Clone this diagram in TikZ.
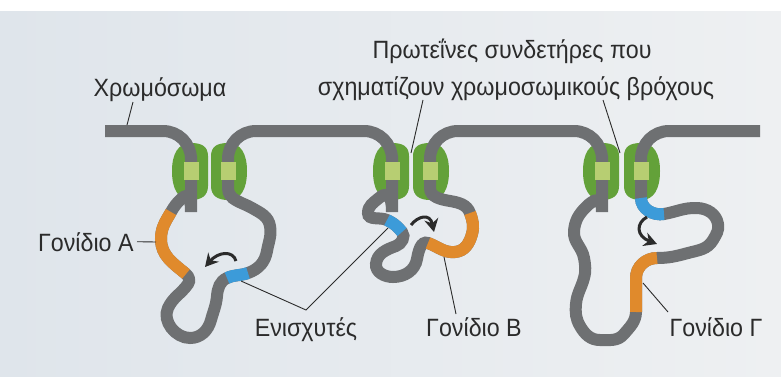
\documentclass[tikz,border=0pt]{standalone}
\usepackage{fontspec}
\setmainfont{Liberation Sans}[FakeStretch=0.93]
\usetikzlibrary{arrows.meta}
\definecolor{paperL}{HTML}{DFE5EB}
\definecolor{paperR}{HTML}{EEF0F2}
\definecolor{chrom}{HTML}{6E7072}
\definecolor{geneOr}{HTML}{E08A2C}
\definecolor{enhBl}{HTML}{3C9BD9}
\definecolor{cohDk}{HTML}{63A139}
\definecolor{cohLt}{HTML}{B7CE72}
\definecolor{ink}{HTML}{2B2B2B}
\tikzset{
  % chromatin fibre and its coloured stretches (same width, butt ends)
  strand/.style={draw=chrom, line width=6pt},
  gene/.style={draw=geneOr, line width=6pt},
  enh/.style={draw=enhBl, line width=6pt},
  % loop-forming clamp proteins
  cohesin/.style={fill=cohDk},
  band/.style={fill=cohLt},
  % small curved "contact" arrows
  turn/.style={draw=ink, line width=1.5pt, -{Stealth[length=6.5pt,width=7pt]}},
  leader/.style={draw=ink, line width=0.45pt},
  lbl/.style={font=\fontsize{12.5}{14}\selectfont, text=ink, inner sep=0pt},
}

\begin{document}
\begin{tikzpicture}[x=0.5pt, y=0.5pt]
\useasboundingbox (0,0) rectangle (781,376);

% paper
\shade[left color=paperL, right color=paperR] (0,0) rectangle (781,365);
\fill[white] (0,365) rectangle (781,376);

% =====================================================================
% CLAMP PAIRS  (x of the strand through each half / outer side)
% round on the outside, flat where the two halves meet
% =====================================================================
\foreach \x/\s in {191/1, 228/-1, 392/1, 430/-1, 602/1, 641/-1} {
  \fill[cohesin] (\x+17*\s,190) -- (\x+17*\s,220)
    .. controls (\x+17*\s,230) and (\x+10*\s,233) .. (\x,233)
    .. controls (\x-13*\s,233) and (\x-19*\s,222) .. (\x-19*\s,205)
    .. controls (\x-19*\s,187) and (\x-13*\s,176) .. (\x,176)
    .. controls (\x+10*\s,176) and (\x+17*\s,180) .. (\x+17*\s,190) -- cycle;
}

% =====================================================================
% CHROMOSOME  (one fibre, left to right, three loops)
% =====================================================================
\draw[strand]
  (105,245) [rounded corners=14pt] -| (191,192)
  % loop 1 -- gene A
  [sharp corners] to[out=-90,in=45] (180,176)
  to[out=-135,in=60] (171,164)
  to[out=-120,in=90] (161,137)
  to[out=-90,in=140] (186,102)
  to[out=-40,in=55] (188,92)
  to[out=-125,in=65] (168,68)
  to[out=-115,in=180] (190,38)
  to[out=0,in=-105] (211,56)
  to[out=75,in=-95] (217,80)
  to[out=85,in=-155] (227,98)
  to[out=25,in=-160] (248,103)
  to[out=20,in=-100] (267,125)
  to[out=80,in=-80] (270,150)
  to[out=100,in=-30] (252,168)
  to[out=150,in=-90] (228,188)
  -- (228,192) [rounded corners=14pt] |- (310,245) -| (392,192)
  % loop 2 -- gene B
  [sharp corners] to[out=-90,in=40] (379,178)
  to[out=-140,in=90] (368,163)
  to[out=-90,in=155] (387,156)
  to[out=-25,in=130] (402,144)
  to[out=-50,in=20] (396,130)
  to[out=-160,in=85] (376,112)
  to[out=-95,in=180] (393,99)
  to[out=0,in=-100] (417,117)
  to[out=80,in=160] (428,133)
  to[out=-20,in=-175] (455,124)
  to[out=5,in=-105] (472,142)
  to[out=75,in=-70] (470,163)
  to[out=110,in=-10] (450,175)
  to[out=170,in=-90] (430,188)
  -- (430,192) [rounded corners=14pt] |- (516,245) -| (602,192)
  % loop 3 -- gene G
  [sharp corners] to[out=-90,in=45] (586,169)
  to[out=-135,in=85] (574,145)
  to[out=-95,in=100] (584,118)
  to[out=-80,in=75] (584,98)
  to[out=-105,in=85] (576,72)
  to[out=-95,in=120] (580,50)
  to[out=-60,in=180] (600,36)
  to[out=0,in=-130] (624,42)
  to[out=50,in=-92] (636,64)
  to[out=88,in=-90] (636,98)
  to[out=90,in=180] (657,118)
  to[out=0,in=-165] (688,123)
  to[out=15,in=-120] (713,136)
  to[out=60,in=-80] (718,152)
  to[out=100,in=-2] (697,168)
  to[out=178,in=10] (664,162)
  to[out=190,in=-90] (641,178)
  -- (641,182) [rounded corners=14pt] |- (760,245);

% genes (orange) and enhancers (blue) laid over the same curve pieces
\draw[gene] (171,164) to[out=-120,in=90] (161,137) to[out=-90,in=140] (186,102);
\draw[gene] (428,133) to[out=-20,in=-175] (455,124) to[out=5,in=-105] (472,142)
  to[out=75,in=-70] (470,163);
\draw[gene] (636,64) to[out=88,in=-90] (636,98) to[out=90,in=180] (657,118);
\draw[enh] (227,98) to[out=25,in=-160] (248,103);
\draw[enh] (387,156) to[out=-25,in=130] (402,144);
\draw[enh] (664,162) to[out=190,in=-90] (641,178);

% fibre passing through the clamp ring
\foreach \x in {191,228,392,430,602,641}
  \fill[band] (\x-7.5,196) rectangle (\x+7.5,214);

% enhancer -> promoter contacts
\draw[turn] (236,115) .. controls (233,126) and (218,124) .. (205,109);
\draw[turn] (411,151) .. controls (418,160) and (430,163) .. (434,144);
\draw[turn] (647,159) .. controls (636,153) and (636,140) .. (657,132);

% =====================================================================
% LABELS
% =====================================================================
\node[lbl, anchor=base] (chromLbl) at (160,280) {Χρωμόσωμα};
\node[lbl, anchor=base] (clampLblA) at (512,318) {Πρωτεΐνες συνδετήρες που};
\node[lbl, anchor=base] (clampLblB) at (516,281) {σχηματίζουν χρωμοσωμικούς βρόχους};
\node[lbl, anchor=base east] (geneALbl) at (134,125) {Γονίδιο Α};
\node[lbl, anchor=base] (enhLbl) at (306,40) {Ενισχυτές};
\node[lbl, anchor=base] (geneBLbl) at (474,40) {Γονίδιο Β};
\node[lbl, anchor=base] (geneGLbl) at (716,40) {Γονίδιο Γ};

% leader ends on the drawing
\coordinate (chromTip) at (127,251);
\coordinate (clampTipB) at (411,223);
\coordinate (clampTipC) at (620,223);
\coordinate (geneATip) at (156,134);
\coordinate (enhTipA) at (241,95);
\coordinate (enhTipB) at (388,148);
\coordinate (enhFork) at (306,66);
\coordinate (geneBTip) at (444,119);
\coordinate (geneGTip) at (643,93);

\draw[leader] (chromTip) -- (133,274);
\draw[leader] (423,276) -- (clampTipB);
\draw[leader] (603,276) -- (clampTipC);
\draw[leader] ([xshift=1.5pt]geneALbl.east) -- (geneATip);
\draw[leader] (enhTipA) -- (enhFork) -- (enhTipB);
\draw[leader] (geneBTip) -- (456,62);
\draw[leader] (geneGTip) -- (668,64);

\end{tikzpicture}
\end{document}
